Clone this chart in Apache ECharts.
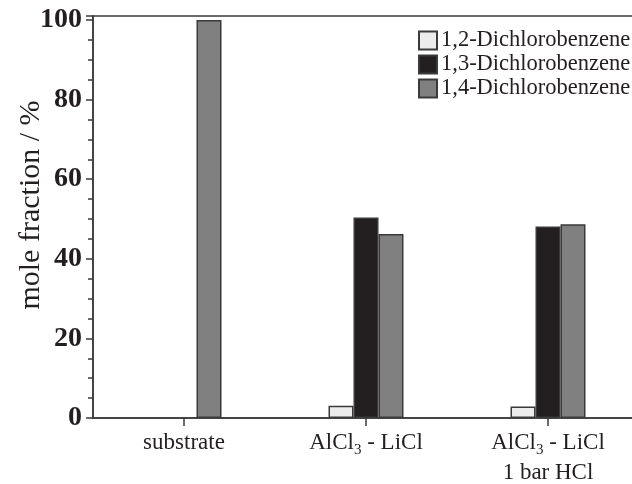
<!DOCTYPE html>
<html>
<head>
<meta charset="utf-8">
<script src="https://cdn.jsdelivr.net/npm/echarts@6/dist/echarts.min.js"></script>
<style>
  html, body { margin: 0; padding: 0; background: #ffffff; }
  #chart { width: 632px; height: 484px; }
</style>
</head>
<body>
<div id="chart"></div>
<script>
// Isomer distribution of dichlorobenzene under different conditions
const categories = ['substrate', 'AlCl3 - LiCl', 'AlCl3 - LiCl\n1 bar HCl'];
const seriesNames = ['1,2-Dichlorobenzene', '1,3-Dichlorobenzene', '1,4-Dichlorobenzene'];
const ortho = [null, 3.1, 2.9];
const meta = [null, 50.4, 48.1];
const para = [100, 46.2, 48.7];
const yTicks = [0, 20, 40, 60, 80, 100];

const serif = '"Liberation Serif", "DejaVu Serif", serif';
const fills = ['#ececec', '#231f20', '#808080'];
const values = [ortho, meta, para];

const chart = echarts.init(document.getElementById('chart'), null, { renderer: 'canvas' });

function catLabel(v) {
  return v.replace(/AlCl3/g, 'AlCl{sub|3}');
}

chart.setOption({
  animation: false,
  backgroundColor: '#ffffff',
  grid: {
    left: 93, right: -7, top: 16, bottom: 66,
    containLabel: false,
    outerBoundsMode: 'none',
    show: true, borderColor: '#3a3a3a', borderWidth: 1.5, backgroundColor: 'transparent'
  },
  legend: {
    orient: 'vertical',
    left: 418, top: 29,
    padding: 0,
    itemWidth: 18, itemHeight: 18, itemGap: 1,
    icon: 'rect',
    textStyle: { fontFamily: serif, fontSize: 22.5, color: '#231f20', padding: [0, 0, 0, -1] },
    data: seriesNames
  },
  xAxis: {
    type: 'category',
    data: categories,
    axisLine: { lineStyle: { color: '#3a3a3a', width: 1.5 } },
    axisTick: { show: true, interval: 0, alignWithLabel: true, length: 8, lineStyle: { color: '#3a3a3a', width: 1.5 } },
    axisLabel: {
      show: true,
      interval: 0,
      margin: 10,
      fontFamily: serif, fontSize: 23, color: '#231f20', lineHeight: 30,
      formatter: catLabel,
      rich: {
        sub: { fontFamily: serif, fontSize: 15, color: '#231f20', verticalAlign: 'bottom', padding: [10, 0, 0, 0] }
      }
    }
  },
  yAxis: {
    type: 'value',
    min: 0, max: 101, interval: 20,
    name: 'mole fraction / %',
    nameLocation: 'middle',
    nameGap: 47,
    nameMoveOverlap: false,
    nameTextStyle: { fontFamily: serif, fontSize: 30, color: '#231f20', padding: [0, 0, 0, 24] },
    splitLine: { show: false },
    axisLine: { show: true, lineStyle: { color: '#3a3a3a', width: 1.5 } },
    axisTick: { show: true, inside: false, length: 7, lineStyle: { color: '#3a3a3a', width: 1.5 } },
    minorTick: { show: true, splitNumber: 4, length: 5, lineStyle: { color: '#3a3a3a', width: 1.5 } },
    axisLabel: {
      margin: 11,
      fontFamily: serif, fontSize: 28, fontWeight: 'bold', color: '#231f20',
      formatter: function (v) { return yTicks.indexOf(v) >= 0 ? String(v) : ''; }
    }
  },
  series: seriesNames.map(function (name, i) {
    return {
      name: name,
      type: 'bar',
      data: values[i],
      barWidth: 25,
      barGap: '0%',
      itemStyle: { color: fills[i], borderColor: '#3a3a3a', borderWidth: 1.5 }
    };
  })
});
</script>
</body>
</html>
